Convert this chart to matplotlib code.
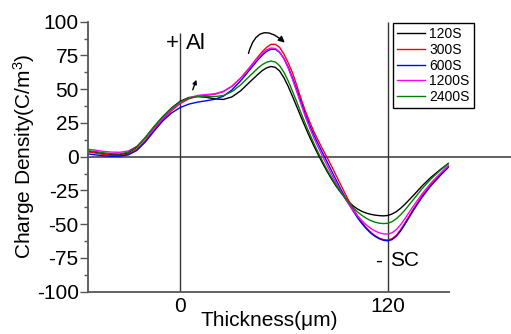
import numpy as np
import matplotlib
matplotlib.use("Agg")
import matplotlib.pyplot as plt

plt.rcParams['font.family'] = ['Liberation Sans', 'DejaVu Sans']
plt.rcParams['mathtext.fontset'] = 'custom'
plt.rcParams['mathtext.rm'] = 'Liberation Sans'
plt.rcParams['mathtext.default'] = 'regular'
plt.rcParams['axes.unicode_minus'] = False

# espesor (um) y densidad de carga (C/m^3) para cada tiempo
thickness = [-53, -50, -45, -40, -35, -30, -25, -20, -15, -10, -5, 0, 5, 10, 15, 20,
             25, 30, 35, 40,
             45, 47.5, 50, 52.5, 55, 57.5, 60, 62.5, 65, 67.5, 70, 72.5, 75, 77.5,
             80, 82.5, 85, 87.5, 90, 92.5, 95, 97.5, 100, 102.5, 105, 107.5, 110,
             112.5, 115, 117.5, 120, 122.5, 125, 127.5, 130,
             135, 140, 145, 150, 155]

q_120s = [4.0, 3.4, 2.3, 1.5, 1.4, 2.8, 7.0, 14.0, 22.0, 29.5, 36.0, 41.0, 43.8, 44.6,
          44.0, 42.8, 42.4, 44.3, 48.8, 55.0,
          61.0, 63.8, 65.8, 66.8, 66.2, 63.5, 58.5, 52.0, 44.5, 36.8, 29.0, 21.5, 14.2,
          7.4, 1.0, -5.2, -11.0, -16.5, -21.5, -26.0, -30.0, -33.5, -36.5, -38.8,
          -40.5, -41.8, -42.7, -43.3, -43.7, -43.9, -43.6, -42.5, -40.7, -38.2, -35.2,
          -28.5, -21.5, -15.3, -10.0, -5.0]
q_300s = [3.5, 2.9, 1.8, 1.0, 0.8, 1.8, 5.5, 12.0, 20.0, 27.5, 34.0, 39.3, 42.8, 44.8,
          45.5, 46.2, 48.2, 52.2, 58.2, 65.8,
          74.0, 77.8, 81.0, 83.2, 83.3, 81.0, 76.0, 69.5, 62.0, 52.5, 42.5, 33.5, 25.5,
          18.0, 11.5, 5.2, -0.8, -7.0, -13.5, -20.0, -26.5, -32.8, -38.5, -43.8, -48.5,
          -52.5, -55.8, -58.4, -60.3, -61.5, -61.8, -60.8, -58.2, -54.0, -49.0,
          -38.5, -28.8, -20.5, -13.5, -7.0]
q_600s = [2.0, 1.5, 0.7, 0.3, 0.3, 1.3, 4.6, 11.0, 19.0, 26.5, 32.3, 36.4, 38.9, 40.4,
          41.4, 42.5, 44.8, 49.5, 56.2, 64.0,
          71.8, 75.2, 78.0, 79.6, 79.6, 77.3, 72.8, 66.3, 58.3, 49.3, 40.0, 31.0, 22.8,
          15.5, 8.8, 2.3, -4.0, -10.4, -16.8, -23.2, -29.3, -35.0, -40.3, -45.2, -49.5,
          -53.3, -56.5, -59.0, -60.8, -62.0, -62.4, -61.5, -59.0, -55.0, -50.0,
          -39.5, -29.8, -21.5, -14.5, -8.0]
q_1200s = [5.5, 5.0, 4.0, 3.4, 3.2, 4.2, 7.6, 13.6, 21.2, 28.6, 34.8, 39.8, 43.4, 45.4,
           46.0, 46.6, 48.4, 52.3, 58.2, 65.6,
           73.2, 76.6, 79.2, 80.5, 80.2, 77.5, 72.5, 65.5, 57.0, 47.8, 38.3, 29.2, 20.8,
           13.3, 6.4, -0.2, -6.6, -12.9, -19.0, -24.9, -30.4, -35.4, -39.9, -43.9,
           -47.4, -50.5, -53.0, -55.0, -56.4, -57.2, -57.4, -56.4, -54.0, -50.3, -45.8,
           -36.2, -27.3, -19.5, -12.8, -6.6]
q_2400s = [4.4, 3.9, 3.0, 2.2, 2.0, 3.3, 7.5, 14.5, 22.5, 29.8, 35.8, 40.6, 43.4, 44.5,
           44.6, 44.5, 45.3, 48.2, 53.2, 59.5,
           65.6, 68.2, 70.0, 70.8, 70.2, 67.4, 62.5, 56.0, 48.3, 40.3, 32.0, 24.0, 16.5,
           9.3, 2.5, -3.8, -9.8, -15.4, -20.7, -25.6, -30.1, -34.2, -37.8, -40.9, -43.5,
           -45.6, -47.3, -48.5, -49.3, -49.6, -49.4, -48.2, -46.0, -43.0, -39.5,
           -31.5, -23.5, -16.5, -10.5, -5.2]

labels = ["120S", "300S", "600S", "1200S", "2400S"]
colores = ["black", "#ff0000", "#0000ff", "#ff00ff", "#008000"]
series = [q_120s, q_300s, q_600s, q_1200s, q_2400s]

fig = plt.figure(figsize=(5.11, 3.34), dpi=100)
ax = fig.add_axes([0.173, 0.127, 0.706, 0.808])

for q, lab, c in zip(series, labels, colores):
    ax.plot(thickness, q, color=c, lw=1.0, label=lab, solid_joinstyle='round')

ax.set_xlim(-53, 155.5)
ax.set_ylim(-100, 100)

# lineas de referencia: cero y los electrodos
ax.axhline(0, xmin=0, xmax=1.2, color="#555555", lw=1.3, clip_on=False, zorder=1)
ax.vlines(0, -100, 92, color="#333333", lw=1.0, zorder=1)
ax.vlines(120, -100, 100, color="#333333", lw=1.0, zorder=1)

ax.spines['top'].set_visible(False)
ax.spines['right'].set_visible(False)
for s in ['left', 'bottom']:
    ax.spines[s].set_color("#555555")
    ax.spines[s].set_linewidth(1.3)

ax.set_yticks(np.arange(-100, 101, 25))
ax.set_yticks(np.arange(-100, 101, 12.5), minor=True)
ax.set_xticks([0, 120])
ax.tick_params(axis='y', which='major', direction='out', length=6, width=1,
               color="#555555", labelsize=15, pad=1)
ax.tick_params(axis='y', which='minor', direction='out', length=3, width=1,
               color="#555555")
ax.tick_params(axis='x', length=0, labelsize=15, pad=4)

ax.set_xlabel("Thickness(\u03bcm)", fontsize=15, labelpad=-4)
ax.set_ylabel("Charge Density(C/m$^3$)", fontsize=15, labelpad=0)

ax.text(-4.5, 84, "+", fontsize=16, ha='center', va='center')
ax.text(3.5, 84, "Al", fontsize=16, ha='left', va='center')
ax.text(114.6, -77.3, "-", fontsize=15, ha='center', va='center')
ax.text(121.6, -77.3, "SC", fontsize=15, ha='left', va='center')

# flechas
ax.annotate("", xy=(60.5, 84.5), xytext=(39.5, 76.5),
            arrowprops=dict(arrowstyle="-|>", color="black", lw=1,
                            connectionstyle="arc3,rad=-0.8", mutation_scale=9,
                            shrinkA=0, shrinkB=0))
ax.annotate("", xy=(9.4, 57), xytext=(7.3, 49.5),
            arrowprops=dict(arrowstyle="-|>", color="black", lw=1, mutation_scale=6,
                            shrinkA=0, shrinkB=0))

leg = ax.legend(loc='upper left', bbox_to_anchor=(0.845, 0.995), fontsize=10,
                frameon=True, fancybox=False, framealpha=1, edgecolor="black",
                borderaxespad=0, handlelength=2.0, handletextpad=0.3,
                labelspacing=0.12, borderpad=0.3)
leg.get_frame().set_linewidth(1.0)

plt.savefig("out.png", dpi=100)
plt.close()
